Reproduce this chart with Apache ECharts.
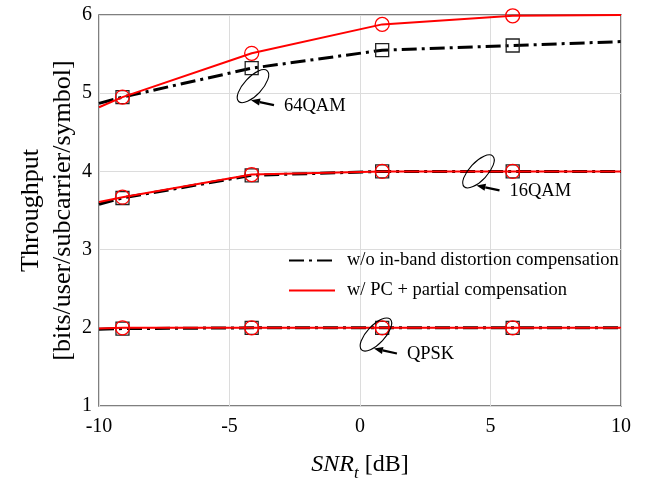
<!DOCTYPE html>
<html>
<head>
<meta charset="utf-8">
<script src="https://cdn.jsdelivr.net/npm/echarts@6/dist/echarts.min.js"></script>
<style>
  html, body { margin: 0; padding: 0; background: #fff; }
  #chart { width: 652px; height: 478px; }
</style>
</head>
<body>
<div id="chart"></div>
<script>
// SNR_t sample points (dB); markers sit on the inner four
const snr = [-10, -9.1, -4.15, 0.85, 5.85, 10];

// Throughput without in-band distortion compensation
const woQam64 = [4.87, 4.95, 5.32, 5.55, 5.61, 5.66];
const woQam16 = [3.58, 3.66, 3.95, 4.0, 4.0, 4.0];
const woQpsk  = [1.98, 1.99, 2.0, 2.0, 2.0, 2.0];

// Throughput with PC + partial compensation
const pcQam64 = [4.82, 4.95, 5.51, 5.88, 5.99, 6.0];
const pcQam16 = [3.61, 3.67, 3.96, 4.0, 4.0, 4.0];
const pcQpsk  = [1.99, 2.0, 2.0, 2.0, 2.0, 2.0];

const xTicks = [-10, -5, 0, 5, 10];
const yTicks = [1, 2, 3, 4, 5, 6];

const legendNames = ['w/o in-band distortion compensation', 'w/ PC + partial compensation'];

// Modulation labels with the curve group each loop encircles (centre in data units)
const modLabels = ['64QAM', '16QAM', 'QPSK'];
const loopCentres = [[-4.1, 5.09], [4.54, 4.0], [0.61, 1.914]];

const FONT = '"Liberation Serif", "DejaVu Serif", serif';
const RED = '#ff0000';
const DASH_DOT = [15, 5, 3, 5];

function pts(ys) {
  return snr.map((x, i) => {
    const item = { value: [x, ys[i]] };
    if (i === 0 || i === snr.length - 1) item.symbol = 'none';
    return item;
  });
}

function blackSeries(name, ys) {
  return {
    name, type: 'line', data: pts(ys), z: 3,
    symbol: 'rect', symbolSize: 13,
    lineStyle: { color: '#000', width: 3, type: DASH_DOT, cap: 'butt' },
    itemStyle: { color: 'rgba(0,0,0,0)', borderColor: '#222', borderWidth: 1.3 },
    emphasis: { disabled: true }, animation: false
  };
}
function redSeries(name, ys) {
  return {
    name, type: 'line', data: pts(ys), z: 4,
    symbol: 'circle', symbolSize: 14,
    lineStyle: { color: RED, width: 2 },
    itemStyle: { color: 'rgba(0,0,0,0)', borderColor: RED, borderWidth: 1.3 },
    emphasis: { disabled: true }, animation: false
  };
}

const chart = echarts.init(document.getElementById('chart'), null, { renderer: 'canvas' });

const option = {
  animation: false,
  backgroundColor: '#fff',
  textStyle: { fontFamily: FONT },
  grid: {
    left: 99, right: 31, top: 15, bottom: 72,
    outerBoundsMode: 'none',
    containLabel: false,
    show: true, borderColor: '#555', borderWidth: 1.5, backgroundColor: 'transparent'
  },
  legend: {
    data: legendNames,
    orient: 'vertical',
    left: 288, top: 251,
    padding: 0,
    itemWidth: 46, itemHeight: 14, itemGap: 11,
    itemStyle: { color: 'rgba(0,0,0,0)', borderColor: 'rgba(0,0,0,0)', borderWidth: 0 },
    textStyle: { fontFamily: FONT, fontSize: 18.5, color: '#000', padding: [0, 0, 0, 7] },
    selectedMode: false
  },
  xAxis: {
    type: 'value',
    min: xTicks[0], max: xTicks[xTicks.length - 1], interval: 5,
    axisLine: { show: false },
    axisTick: { show: false },
    splitLine: { show: true, lineStyle: { color: '#dcdcdc', width: 1 } },
    axisLabel: { fontFamily: FONT, fontSize: 20, color: '#000', margin: 11 },
    name: '{i|SNR}{s|t}{n| [dB]}',
    nameLocation: 'middle',
    nameGap: 42,
    nameMoveOverlap: false,
    nameTextStyle: {
      fontFamily: FONT, color: '#000',
      rich: {
        i: { fontFamily: FONT, fontSize: 24, fontStyle: 'italic', lineHeight: 34, verticalAlign: 'middle' },
        s: { fontFamily: FONT, fontSize: 17, fontStyle: 'italic', lineHeight: 17, verticalAlign: 'bottom' },
        n: { fontFamily: FONT, fontSize: 24, lineHeight: 34, verticalAlign: 'middle' }
      }
    }
  },
  yAxis: {
    type: 'value',
    min: yTicks[0], max: yTicks[yTicks.length - 1], interval: 1,
    axisLine: { show: false },
    axisTick: { show: false },
    splitLine: { show: true, lineStyle: { color: '#dcdcdc', width: 1 } },
    axisLabel: { fontFamily: FONT, fontSize: 20, color: '#000', margin: 7 },
    name: 'Throughput\n[bits/user/subcarrier/symbol]',
    nameLocation: 'middle',
    nameGap: 20,
    nameMoveOverlap: false,
    nameTextStyle: { fontFamily: FONT, fontSize: 26, color: '#000', lineHeight: 32 }
  },
  series: [
    // legend-only entries (line sample, no marker)
    { name: legendNames[0], type: 'line', data: [], symbol: 'none',
      lineStyle: { color: '#000', width: 3, type: DASH_DOT, cap: 'butt' } },
    { name: legendNames[1], type: 'line', data: [], symbol: 'none',
      lineStyle: { color: RED, width: 2 } },
    blackSeries('wo-64QAM', woQam64),
    blackSeries('wo-16QAM', woQam16),
    blackSeries('wo-QPSK', woQpsk),
    redSeries('pc-64QAM', pcQam64),
    redSeries('pc-16QAM', pcQam16),
    redSeries('pc-QPSK', pcQpsk)
  ]
};

chart.setOption(option);

// Loop + arrow + label call-outs, anchored on data coordinates
function callouts() {
  const els = [];
  modLabels.forEach((label, k) => {
    const c = chart.convertToPixel({ gridIndex: 0 }, loopCentres[k]);
    const cx = c[0], cy = c[1];
    els.push({
      type: 'ellipse',
      shape: { cx: 0, cy: 0, rx: 21, ry: 9 },
      x: cx, y: cy, rotation: 47 * Math.PI / 180,
      style: { fill: 'none', stroke: '#000', lineWidth: 1.1 },
      z: 10, silent: true
    });
    const tail = [cx + 21, cy + 19];
    const head = [cx - 2, cy + 14];
    const dx = head[0] - tail[0], dy = head[1] - tail[1];
    const len = Math.sqrt(dx * dx + dy * dy);
    const ux = dx / len, uy = dy / len;
    const aLen = 9, aHalf = 3.6;
    const base = [head[0] - ux * aLen, head[1] - uy * aLen];
    els.push({
      type: 'line',
      shape: { x1: tail[0], y1: tail[1], x2: base[0], y2: base[1] },
      style: { stroke: '#000', lineWidth: 2.2 },
      z: 10, silent: true
    });
    els.push({
      type: 'polygon',
      shape: { points: [head, [base[0] - uy * aHalf, base[1] + ux * aHalf], [base[0] + uy * aHalf, base[1] - ux * aHalf]] },
      style: { fill: '#000' },
      z: 10, silent: true
    });
    els.push({
      type: 'text',
      x: cx + 31, y: cy + 20,
      style: { text: label, font: '18.5px ' + FONT, fill: '#000', textAlign: 'left', textVerticalAlign: 'middle' },
      z: 10, silent: true
    });
  });
  chart.setOption({ graphic: { elements: els } });
}
callouts();
</script>
</body>
</html>
